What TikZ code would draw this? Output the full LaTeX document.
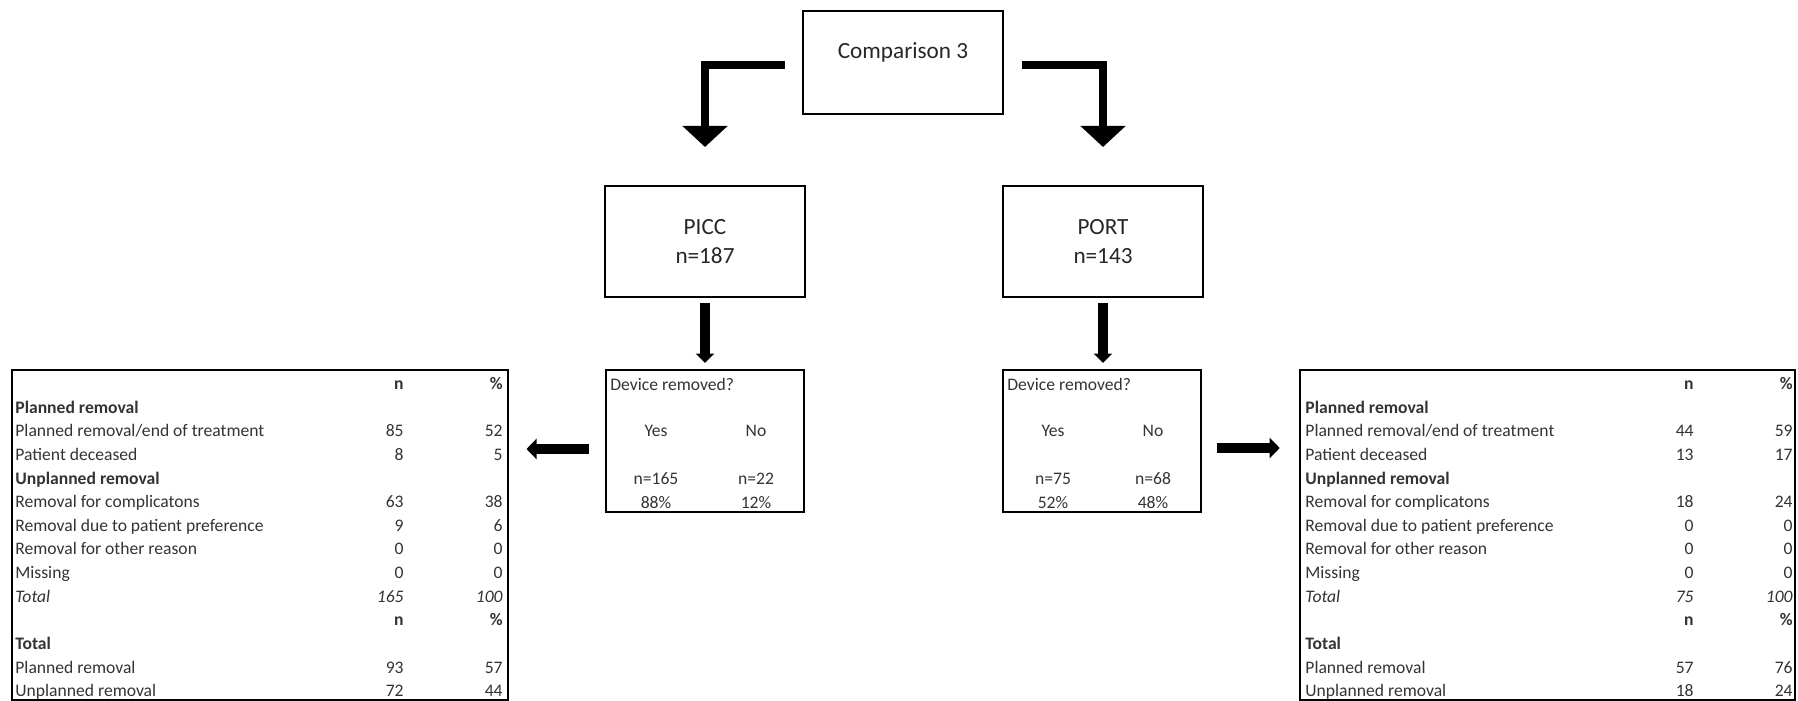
\documentclass[tikz,border=0pt]{standalone}
\usepackage{fontspec}
\setmainfont{Carlito}
\usetikzlibrary{arrows.meta}

\begin{document}
\begin{tikzpicture}[x=0.5pt,y=-0.5pt,
  frame/.style={draw=black, line width=1pt, inner sep=0pt, text=black!85},
  bigtxt/.style={inner sep=0pt, text=black!85, font=\fontsize{11.6}{14.5}\selectfont},
  cell/.style={inner sep=0pt, text=black!80, font=\fontsize{8.8}{10}\selectfont},
  cellb/.style={cell, font=\fontsize{8.8}{10}\selectfont\bfseries},
  celli/.style={cell, font=\fontsize{8.8}{10}\selectfont\itshape},
  elbowarr/.style={draw=black, line width=3.75pt,
    -{Triangle[width=22pt,length=10.5pt]}},
  downarr/.style={draw=black, line width=5pt,
    -{Triangle[width=9pt,length=4.75pt]}},
  sidearr/.style={draw=black, line width=4.75pt,
    -{Triangle[width=10pt,length=5pt]}},
]
\useasboundingbox (0,0) rectangle (1798,701);

% top box and the two groups
\node[frame, minimum width=100pt, minimum height=51.5pt] (cmp) at (903,62.5) {};
\node[bigtxt, anchor=base] (cmptxt) at (903,58.5) {Comparison 3};

\node[frame, minimum width=100pt, minimum height=55.5pt, align=center,
      font=\fontsize{11.6}{14.5}\selectfont] (picc) at (705,241.5) {PICC\\n=187};
\node[frame, minimum width=100pt, minimum height=55.5pt, align=center,
      font=\fontsize{11.6}{14.5}\selectfont] (port) at (1103,241.5) {PORT\\n=143};

% device removed boxes
\node[frame, minimum width=99pt, minimum height=71pt] (devL) at (705,441) {};
\node[frame, minimum width=99pt, minimum height=71pt] (devR) at (1102,441) {};

\node[cell, anchor=base west] (devLq) at (610,390.5) {Device removed?};
\node[cell, anchor=base] (devLy) at (656,436.5) {Yes};
\node[cell, anchor=base] (devLn) at (756,436.5) {No};
\node[cell, anchor=base] (devLyn) at (656,484.5) {n=165};
\node[cell, anchor=base] (devLnn) at (756,484.5) {n=22};
\node[cell, anchor=base] (devLyp) at (656,508.5) {88\%};
\node[cell, anchor=base] (devLnp) at (756,508.5) {12\%};

\node[cell, anchor=base west] (devRq) at (1007,390.5) {Device removed?};
\node[cell, anchor=base] (devRy) at (1053,436.5) {Yes};
\node[cell, anchor=base] (devRn) at (1153,436.5) {No};
\node[cell, anchor=base] (devRyn) at (1053,484.5) {n=75};
\node[cell, anchor=base] (devRnn) at (1153,484.5) {n=68};
\node[cell, anchor=base] (devRyp) at (1053,508.5) {52\%};
\node[cell, anchor=base] (devRnp) at (1153,508.5) {48\%};

% outcome tables
\node[frame, minimum width=248pt, minimum height=165pt] (tblL) at (259.5,535) {};
\node[frame, minimum width=247.75pt, minimum height=165pt] (tblR) at (1547.25,535) {};

\foreach \tb/\xa in {L/15,R/1305}{
  \foreach \r/\lab in {2/Planned removal,5/Unplanned removal,12/Total}
    \node[cellb, anchor=base west] (\tb-lab\r) at (\xa,{389.6+23.62*(\r-1)}) {\lab};
  \foreach \r/\lab in {3/{Planned removal/end of treatment},4/Patient deceased,
      6/Removal for complicatons,7/Removal due to patient preference,
      8/Removal for other reason,9/Missing,13/Planned removal,14/Unplanned removal}
    \node[cell, anchor=base west] (\tb-lab\r) at (\xa,{389.6+23.62*(\r-1)}) {\lab};
  \node[celli, anchor=base west] (\tb-lab10) at (\xa,{389.6+23.62*9}) {Total};
  \foreach \r in {1,11}{
    \node[cellb, anchor=base east] (\tb-n\r) at (\xa+389,{389.6+23.62*(\r-1)}) {n};
    \node[cellb, anchor=base east] (\tb-p\r) at (\xa+488,{389.6+23.62*(\r-1)}) {\%};
  }
}

\foreach \r/\nv/\pv in {3/85/52,4/8/5,6/63/38,7/9/6,8/0/0,9/0/0,13/93/57,14/72/44}{
  \node[cell, anchor=base east] (L-n\r) at (404,{389.6+23.62*(\r-1)}) {\nv};
  \node[cell, anchor=base east] (L-p\r) at (503,{389.6+23.62*(\r-1)}) {\pv};
}
\node[celli, anchor=base east] (L-n10) at (404,{389.6+23.62*9}) {165};
\node[celli, anchor=base east] (L-p10) at (503,{389.6+23.62*9}) {100};

\foreach \r/\nv/\pv in {3/44/59,4/13/17,6/18/24,7/0/0,8/0/0,9/0/0,13/57/76,14/18/24}{
  \node[cell, anchor=base east] (R-n\r) at (1694,{389.6+23.62*(\r-1)}) {\nv};
  \node[cell, anchor=base east] (R-p\r) at (1793,{389.6+23.62*(\r-1)}) {\pv};
}
\node[celli, anchor=base east] (R-n10) at (1694,{389.6+23.62*9}) {75};
\node[celli, anchor=base east] (R-p10) at (1793,{389.6+23.62*9}) {100};

% connectors
\draw[elbowarr, shorten <=8.5pt, shorten >=19pt] ([yshift=-1.25pt]cmp.west) -| (picc.north);
\draw[elbowarr, shorten <=9pt, shorten >=19pt] ([yshift=-1.25pt]cmp.east) -| (port.north);
\draw[downarr, shorten <=2.5pt, shorten >=3pt] (picc.south) -- (picc.south |- devL.north);
\draw[downarr, shorten <=2.5pt, shorten >=3pt] (port.south) -- (port.south |- devR.north);
\draw[sidearr, shorten <=8pt, shorten >=9pt] ([yshift=-4pt]devL.west) -- ([yshift=-4pt]devL.west -| tblL.east);
\draw[sidearr, shorten <=7.5pt, shorten >=9.4pt] ([yshift=-3.5pt]devR.east) -- ([yshift=-3.5pt]devR.east -| tblR.west);
\end{tikzpicture}
\end{document}
